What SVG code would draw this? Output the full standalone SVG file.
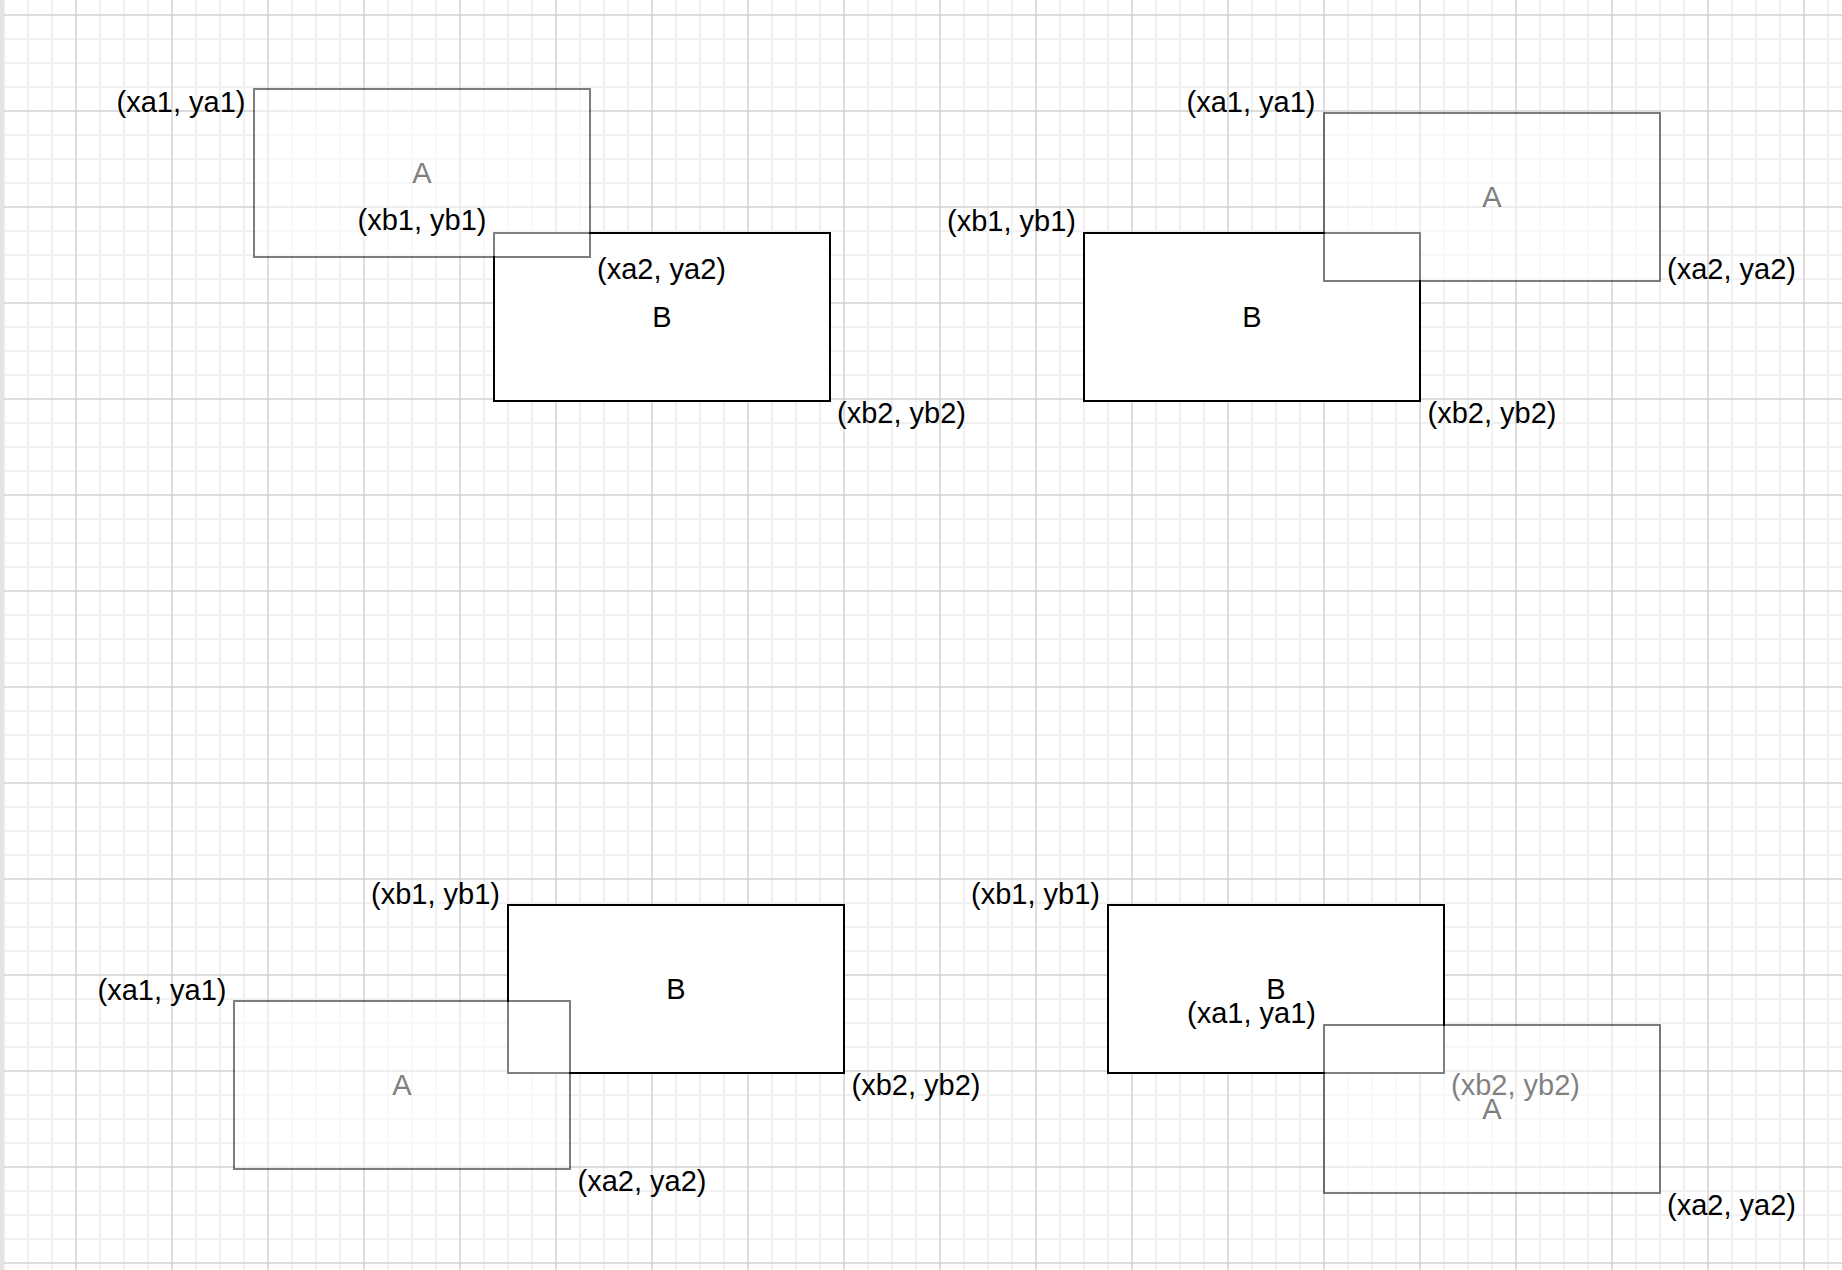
<svg xmlns="http://www.w3.org/2000/svg" width="1842" height="1270" viewBox="0 0 1842 1270">
  <style>
    .box { fill: #ffffff; stroke: #000000; stroke-width: 2; }
    .ghost { opacity: 0.5; }
    .lbl { font-family: "Liberation Sans", Arial, Helvetica, sans-serif; font-size: 29px; fill: #000000; text-anchor: middle; }
    .minor { stroke: #f1f1f1; stroke-width: 2; }
    .major { stroke: #d2d2d2; stroke-width: 1.5; }
  </style>
  <defs>
    <pattern id="grid" patternUnits="userSpaceOnUse" x="16" y="-45" width="96" height="96">
      <line class="minor" x1="12" y1="0" x2="12" y2="96"/>
      <line class="minor" x1="36" y1="0" x2="36" y2="96"/>
      <line class="minor" x1="84" y1="0" x2="84" y2="96"/>
      <line class="minor" x1="0" y1="12" x2="96" y2="12"/>
      <line class="minor" x1="0" y1="36" x2="96" y2="36"/>
      <line class="minor" x1="0" y1="84" x2="96" y2="84"/>
      <line class="major" x1="60" y1="0" x2="60" y2="96"/>
      <line class="major" x1="0" y1="60" x2="96" y2="60"/>
    </pattern>
  </defs>

  <rect x="0" y="0" width="1842" height="1270" fill="#ffffff"/>
  <rect x="0" y="0" width="1842" height="1270" fill="url(#grid)"/>
  <rect x="0" y="0" width="4" height="1270" fill="#e4e4e4"/>

  <g id="connectors"/>

  <!-- Top-left case -->
  <g id="tl">
    <g id="tl-B">
      <rect class="box" x="494" y="233" width="336" height="168"/>
      <text class="lbl" x="662" y="327">B</text>
    </g>
    <g id="tl-A" class="ghost">
      <rect class="box" x="254" y="89" width="336" height="168"/>
      <text class="lbl" x="422" y="183">A</text>
    </g>
    <g id="tl-labels">
      <text class="lbl" x="181" y="112">(xa1, ya1)</text>
      <text class="lbl" x="422" y="230">(xb1, yb1)</text>
      <text class="lbl" x="661.5" y="279">(xa2, ya2)</text>
      <text class="lbl" x="901.5" y="423">(xb2, yb2)</text>
    </g>
  </g>

  <!-- Top-right case -->
  <g id="tr">
    <g id="tr-B">
      <rect class="box" x="1084" y="233" width="336" height="168"/>
      <text class="lbl" x="1252" y="327">B</text>
    </g>
    <g id="tr-A" class="ghost">
      <rect class="box" x="1324" y="113" width="336" height="168"/>
      <text class="lbl" x="1492" y="207">A</text>
    </g>
    <g id="tr-labels">
      <text class="lbl" x="1251" y="112">(xa1, ya1)</text>
      <text class="lbl" x="1011.5" y="231">(xb1, yb1)</text>
      <text class="lbl" x="1731.5" y="279">(xa2, ya2)</text>
      <text class="lbl" x="1492" y="423">(xb2, yb2)</text>
    </g>
  </g>

  <!-- Bottom-left case -->
  <g id="bl">
    <g id="bl-B">
      <rect class="box" x="508" y="905" width="336" height="168"/>
      <text class="lbl" x="676" y="999">B</text>
    </g>
    <g id="bl-A" class="ghost">
      <rect class="box" x="234" y="1001" width="336" height="168"/>
      <text class="lbl" x="402" y="1095">A</text>
    </g>
    <g id="bl-labels">
      <text class="lbl" x="435.5" y="904">(xb1, yb1)</text>
      <text class="lbl" x="162" y="1000">(xa1, ya1)</text>
      <text class="lbl" x="916" y="1095">(xb2, yb2)</text>
      <text class="lbl" x="642" y="1191">(xa2, ya2)</text>
    </g>
  </g>

  <!-- Bottom-right case -->
  <g id="br">
    <g id="br-B">
      <rect class="box" x="1108" y="905" width="336" height="168"/>
      <text class="lbl" x="1276" y="999">B</text>
    </g>
    <text id="br-xb2" class="lbl" x="1515.5" y="1095">(xb2, yb2)</text>
    <g id="br-A" class="ghost">
      <rect class="box" x="1324" y="1025" width="336" height="168"/>
      <text class="lbl" x="1492" y="1119">A</text>
    </g>
    <g id="br-labels">
      <text class="lbl" x="1035.5" y="904">(xb1, yb1)</text>
      <text class="lbl" x="1251.5" y="1023">(xa1, ya1)</text>
      <text class="lbl" x="1731.5" y="1215">(xa2, ya2)</text>
    </g>
  </g>
</svg>
